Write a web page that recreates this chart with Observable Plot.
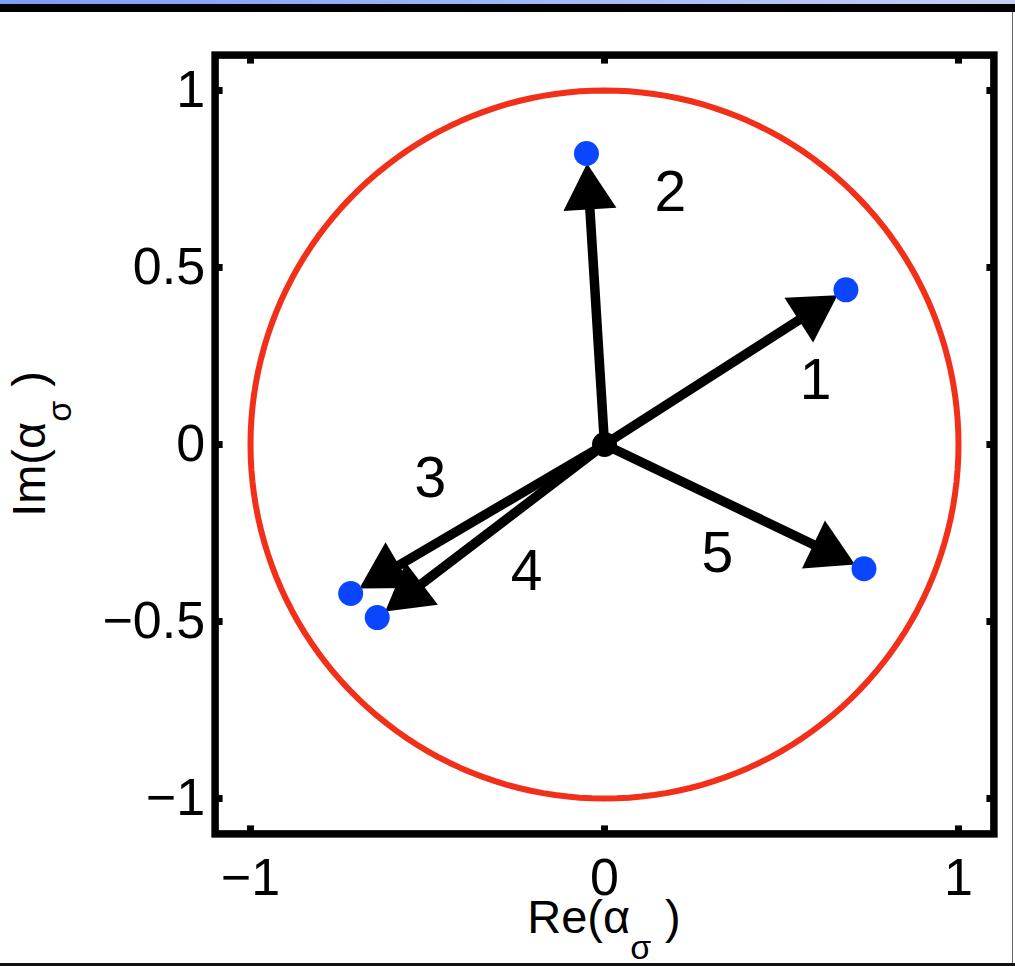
<!DOCTYPE html>
<html>
<head>
<meta charset="utf-8">
<script src="https://cdn.jsdelivr.net/npm/d3@7"></script>
<script src="https://cdn.jsdelivr.net/npm/@observablehq/plot@0.6"></script>
<style>
  body { margin: 0; background: #fff; }
  #wrap { position: relative; width: 1015px; height: 966px; overflow: hidden; background: #fff; }
  #wrap svg { position: absolute; left: 0; top: 0; }
  .topbar { position: absolute; left: 0; top: 0; width: 1015px; height: 4px; background: linear-gradient(to right, #7d9cf7, #c4d0f6); }
  .topline { position: absolute; left: 0; top: 4px; width: 1015px; height: 8px; background: #000; }
  .rightline { position: absolute; left: 1012px; top: 12px; width: 1px; height: 951px; background: #666; }
  .bottomline { position: absolute; left: 0; top: 963px; width: 1015px; height: 3px; background: #111; }
</style>
</head>
<body>
<div id="wrap">
  <div id="chart"></div>
  <div class="topbar"></div>
  <div class="topline"></div>
  <div class="rightline"></div>
  <div class="bottomline"></div>
</div>
<script>
// Complex amplitudes alpha_sigma of the five modes
const modes   = ["1", "2", "3", "4", "5"];
const alphaRe = [0.682, -0.051, -0.717, -0.642, 0.733];
const alphaIm = [0.437, 0.822, -0.421, -0.489, -0.351];
// where each mode number is written
const labelRe = [0.596, 0.186, -0.492, -0.220, 0.319];
const labelIm = [0.181, 0.712, -0.096, -0.360, -0.308];

const axisDomain  = [-1.1, 1.1];
const xTicks      = [-1, 0, 1];
const xTickLabels = ["−1", "0", "1"];
const yTicks      = [-1, -0.5, 0, 0.5, 1];
const yTickLabels = ["−1", "−0.5", "0", "0.5", "1"];

const table = modes.map((m, i) => ({mode: m, re: alphaRe[i], im: alphaIm[i], lre: labelRe[i], lim: labelIm[i]}));
const origin = [{re: 0, im: 0}];
// unit circle |alpha| = 1
const unitCircle = d3.range(0, 361, 2).map(deg => ({re: Math.cos(deg * Math.PI / 180), im: Math.sin(deg * Math.PI / 180)}));

// filled triangular arrowhead whose tip stops just inside the target dot
const arrowHead = {
  draw(context, size) {
    const len = Math.sqrt(size / Math.PI);
    const gap = 10;
    const w = len * Math.tan(Math.PI / 6);
    context.moveTo(0, gap);
    context.lineTo(w, gap + len);
    context.lineTo(-w, gap + len);
    context.closePath();
  }
};

const font = "'Liberation Sans', Arial, Helvetica, sans-serif";
const W = 1015, H = 966;

const plot = Plot.plot({
  width: W,
  height: H,
  marginLeft: 214.6,
  marginRight: 21.6,
  marginTop: 54.6,
  marginBottom: 132.6,
  style: {fontFamily: font, color: "black", background: "transparent", overflow: "visible"},
  x: {domain: axisDomain},
  y: {domain: axisDomain},
  marks: [
    Plot.line(unitCircle, {x: "re", y: "im", stroke: "#f2301a", strokeWidth: 6}),
    Plot.arrow(table, {x1: 0, y1: 0, x2: "re", y2: "im", stroke: "black", strokeWidth: 9.5, headLength: 0, insetEnd: 40}),
    Plot.dot(table, {x: "re", y: "im", symbol: arrowHead, r: 46, rotate: d => Math.atan2(d.re, d.im) * 180 / Math.PI, fill: "black", stroke: null}),
    Plot.dot(table, {x: "re", y: "im", r: 12.5, fill: "#0a46ff", stroke: null}),
    Plot.dot(origin, {x: "re", y: "im", r: 12.5, fill: "black", stroke: null}),
    Plot.text(table, {x: "lre", y: "lim", text: "mode", fontSize: 57, fill: "black"}),
    Plot.frame({stroke: "black", strokeWidth: 7.5}),
    Plot.axisX(xTicks, {anchor: "bottom", tickSize: -8, strokeWidth: 7, tickPadding: 32, fontSize: 52,
      tickFormat: d => xTickLabels[xTicks.indexOf(d)], label: null}),
    Plot.axisX(xTicks, {anchor: "top", tickSize: -8, strokeWidth: 7, tickFormat: () => "", label: null}),
    Plot.axisY(yTicks, {anchor: "left", tickSize: -8, strokeWidth: 7, tickPadding: 18, fontSize: 52,
      tickFormat: d => yTickLabels[yTicks.indexOf(d)], label: null}),
    Plot.axisY(yTicks, {anchor: "right", tickSize: -8, strokeWidth: 7, tickFormat: () => "", label: null})
  ]
});

document.getElementById("chart").appendChild(plot);

// axis titles with subscripted sigma
const svg = d3.select(plot);
const xs = plot.scale("x"), ys = plot.scale("y");
const cx = xs.apply(0), cy = ys.apply(0);
const bottom = ys.apply(axisDomain[0]);

const xt = svg.append("text")
  .attr("x", cx).attr("y", bottom + 100)
  .attr("text-anchor", "middle")
  .attr("font-family", font).attr("font-size", 47).attr("fill", "black");
xt.append("tspan").text("Re(α");
xt.append("tspan").attr("font-size", 34).attr("dy", 26).text("σ");
xt.append("tspan").attr("dy", -26).attr("dx", 14).text(")");

const yt = svg.append("text")
  .attr("transform", `translate(45,${cy}) rotate(-90)`)
  .attr("text-anchor", "middle")
  .attr("font-family", font).attr("font-size", 47).attr("fill", "black");
yt.append("tspan").text("Im(α");
yt.append("tspan").attr("font-size", 34).attr("dy", 26).text("σ");
yt.append("tspan").attr("dy", -26).attr("dx", 14).text(")");
</script>
</body>
</html>
